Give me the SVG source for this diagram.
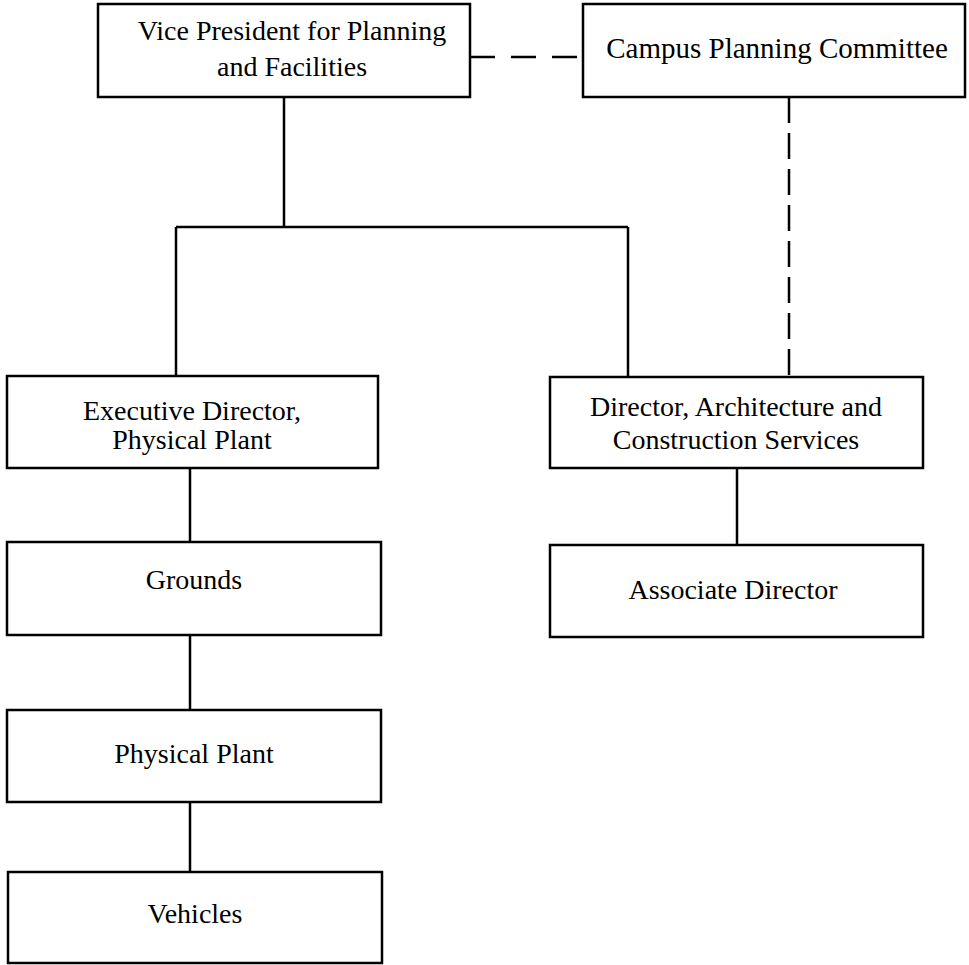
<svg xmlns="http://www.w3.org/2000/svg" width="969" height="965" viewBox="0 0 969 965">
<style>
.box{fill:#fff;stroke:#000;stroke-width:2.5}
.ln{fill:none;stroke:#000;stroke-width:2.5}
.dh{fill:none;stroke:#000;stroke-width:2.5;stroke-dasharray:25,16}
.dv{fill:none;stroke:#000;stroke-width:2.5;stroke-dasharray:26,10}
text{font-family:"Liberation Serif","Times New Roman",serif;font-size:28px;fill:#000;text-anchor:middle}
</style>
<rect width="969" height="965" fill="#fff"/>
<g id="connectors">
<path class="dh" d="M470,57 H583"/>
<path class="dv" d="M789,97 V377"/>
<path class="ln" d="M284,97 V227 M176,227 H628 M176,227 V376 M628,227 V377"/>
<path class="ln" d="M190,468 V542 M190,635 V710 M190,802 V872"/>
<path class="ln" d="M737,468 V545"/>
</g>
<g id="vp"><rect class="box" x="98" y="4" width="372" height="93"/><text x="292" y="40">Vice President for Planning</text><text x="292" y="76">and Facilities</text></g>
<g id="cpc"><rect class="box" x="583" y="4" width="382" height="93"/><text x="777" y="58" style="font-size:29px">Campus Planning Committee</text></g>
<g id="exec"><rect class="box" x="7" y="376" width="371" height="92"/><text x="192" y="420">Executive Director,</text><text x="192" y="449">Physical Plant</text></g>
<g id="dir"><rect class="box" x="550" y="377" width="373" height="91"/><text x="736" y="416">Director, Architecture and</text><text x="736" y="449">Construction Services</text></g>
<g id="assoc"><rect class="box" x="550" y="545" width="373" height="92"/><text x="733" y="599">Associate Director</text></g>
<g id="grounds"><rect class="box" x="7" y="542" width="374" height="93"/><text x="194" y="589">Grounds</text></g>
<g id="pp"><rect class="box" x="7" y="710" width="374" height="92"/><text x="194" y="763">Physical Plant</text></g>
<g id="veh"><rect class="box" x="8" y="872" width="374" height="91"/><text x="195" y="923">Vehicles</text></g>
</svg>
